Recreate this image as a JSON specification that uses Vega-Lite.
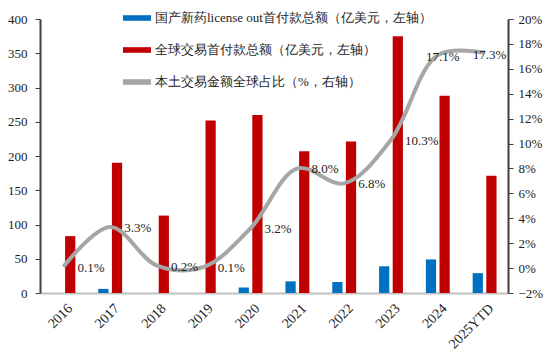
{
  "$schema": "https://vega.github.io/schema/vega-lite/v6.json",
  "width": 468,
  "height": 274,
  "autosize": {"type": "none"},
  "padding": {"left": 40, "top": 19, "right": 46, "bottom": 59},
  "background": "white",
  "config": {
    "font": "Liberation Serif",
    "view": {"stroke": null},
    "axis": {"labelFont": "Liberation Serif", "labelFontSize": 13, "labelColor": "#222222", "grid": false, "title": null}
  },
  "datasets": {
    "bars": [
      {"year": "2016", "series": "国产新药license out首付款总额（亿美元，左轴）", "value": 0},
      {"year": "2016", "series": "全球交易首付款总额（亿美元，左轴）", "value": 83},
      {"year": "2017", "series": "国产新药license out首付款总额（亿美元，左轴）", "value": 6},
      {"year": "2017", "series": "全球交易首付款总额（亿美元，左轴）", "value": 190},
      {"year": "2018", "series": "国产新药license out首付款总额（亿美元，左轴）", "value": 0},
      {"year": "2018", "series": "全球交易首付款总额（亿美元，左轴）", "value": 113},
      {"year": "2019", "series": "国产新药license out首付款总额（亿美元，左轴）", "value": 0},
      {"year": "2019", "series": "全球交易首付款总额（亿美元，左轴）", "value": 252},
      {"year": "2020", "series": "国产新药license out首付款总额（亿美元，左轴）", "value": 8},
      {"year": "2020", "series": "全球交易首付款总额（亿美元，左轴）", "value": 260},
      {"year": "2021", "series": "国产新药license out首付款总额（亿美元，左轴）", "value": 17},
      {"year": "2021", "series": "全球交易首付款总额（亿美元，左轴）", "value": 207},
      {"year": "2022", "series": "国产新药license out首付款总额（亿美元，左轴）", "value": 16},
      {"year": "2022", "series": "全球交易首付款总额（亿美元，左轴）", "value": 221},
      {"year": "2023", "series": "国产新药license out首付款总额（亿美元，左轴）", "value": 39},
      {"year": "2023", "series": "全球交易首付款总额（亿美元，左轴）", "value": 375},
      {"year": "2024", "series": "国产新药license out首付款总额（亿美元，左轴）", "value": 49},
      {"year": "2024", "series": "全球交易首付款总额（亿美元，左轴）", "value": 288},
      {"year": "2025YTD", "series": "国产新药license out首付款总额（亿美元，左轴）", "value": 29},
      {"year": "2025YTD", "series": "全球交易首付款总额（亿美元，左轴）", "value": 171}
    ],
    "ratio": [
      {"year": "2016", "share": 0.001},
      {"year": "2017", "share": 0.033},
      {"year": "2018", "share": 0.002},
      {"year": "2019", "share": 0.001},
      {"year": "2020", "share": 0.032},
      {"year": "2021", "share": 0.080},
      {"year": "2022", "share": 0.068},
      {"year": "2023", "share": 0.103},
      {"year": "2024", "share": 0.171},
      {"year": "2025YTD", "share": 0.173}
    ]
  },
  "layer": [
    {
      "data": {"name": "bars"},
      "mark": {"type": "bar"},
      "encoding": {
        "x": {
          "field": "year", "type": "nominal",
          "sort": ["2016", "2017", "2018", "2019", "2020", "2021", "2022", "2023", "2024", "2025YTD"],
          "scale": {"paddingInner": 0.49, "paddingOuter": 0.245},
          "axis": {"labelAngle": -45, "labelFontSize": 14, "domainColor": "#c0c0c0", "domainWidth": 2, "ticks": false, "labelPadding": 8, "labelOffset": 2}
        },
        "xOffset": {
          "field": "series", "type": "nominal",
          "sort": ["国产新药license out首付款总额（亿美元，左轴）", "全球交易首付款总额（亿美元，左轴）"],
          "scale": {"paddingInner": 0.25}
        },
        "y": {
          "field": "value", "type": "quantitative",
          "scale": {"domain": [0, 400], "nice": false},
          "axis": {"orient": "left", "values": [0, 50, 100, 150, 200, 250, 300, 350, 400], "domainColor": "#404040", "domainWidth": 2, "tickColor": "#404040", "tickSize": 5, "labelPadding": 8}
        },
        "color": {
          "field": "series", "type": "nominal",
          "scale": {
            "domain": ["国产新药license out首付款总额（亿美元，左轴）", "全球交易首付款总额（亿美元，左轴）", "本土交易金额全球占比（%，右轴）"],
            "range": ["#0070c0", "#c00000", "#a6a6a6"]
          },
          "legend": {
            "orient": "none", "legendX": 83, "legendY": -15, "direction": "vertical",
            "title": null, "labelFont": "Liberation Serif", "labelFontSize": 13, "labelColor": "#222222",
            "rowPadding": 11, "symbolType": "M-1,-0.2H1V0.2H-1Z", "symbolSize": 784, "labelOffset": 4,
            "symbolStrokeWidth": 0, "labelLimit": 400,
            "encode": {"symbols": {"update": {"fill": {"scale": "color", "field": "value"}, "stroke": {"value": "transparent"}}}}
          }
        }
      }
    },
    {
      "data": {"name": "ratio"},
      "encoding": {
        "x": {"field": "year", "type": "nominal", "sort": ["2016", "2017", "2018", "2019", "2020", "2021", "2022", "2023", "2024", "2025YTD"]},
        "y": {
          "field": "share", "type": "quantitative",
          "scale": {"domain": [-0.02, 0.2], "nice": false},
          "axis": {"orient": "right", "format": ".0%", "values": [-0.02, 0, 0.02, 0.04, 0.06, 0.08, 0.1, 0.12, 0.14, 0.16, 0.18, 0.2], "domainColor": "#404040", "domainWidth": 2, "tickColor": "#404040", "tickSize": 5, "labelPadding": 5}
        }
      },
      "layer": [
        {
          "mark": {"type": "line", "interpolate": "catmull-rom", "strokeWidth": 4},
          "encoding": {"color": {"datum": "本土交易金额全球占比（%，右轴）"}}
        },
        {
          "transform": [{"filter": "datum.year != '2024' && datum.year != '2025YTD'"}],
          "mark": {"type": "text", "align": "left", "baseline": "middle", "dx": 14, "dy": 1, "fontSize": 13, "font": "Liberation Serif", "color": "#222222"},
          "encoding": {"text": {"field": "share", "type": "quantitative", "format": ".1%"}}
        },
        {
          "transform": [{"filter": "datum.year == '2024' || datum.year == '2025YTD'"}],
          "mark": {"type": "text", "align": "center", "baseline": "middle", "dx": 5, "dy": 2, "fontSize": 13, "font": "Liberation Serif", "color": "#222222"},
          "encoding": {"text": {"field": "share", "type": "quantitative", "format": ".1%"}}
        }
      ]
    }
  ],
  "resolve": {"scale": {"y": "independent"}}
}
